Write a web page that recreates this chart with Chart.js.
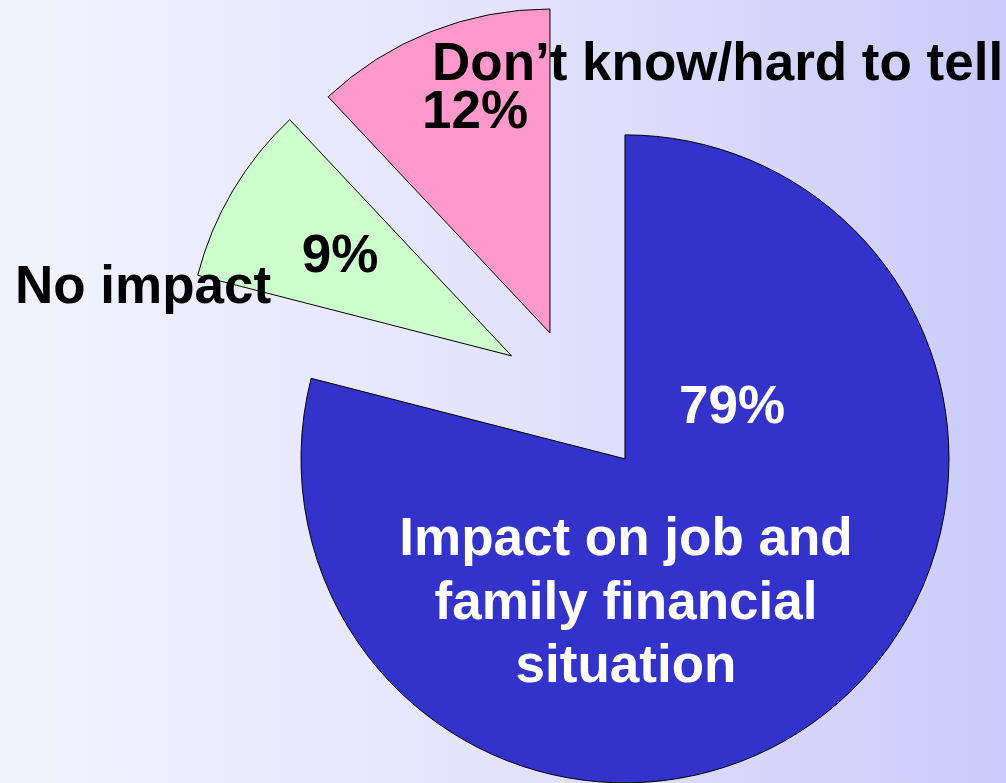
<!DOCTYPE html>
<html lang="en">
<head>
<meta charset="UTF-8" />
<title>Impact pie</title>
<script src="https://cdn.jsdelivr.net/npm/chart.js"></script>
<style>
  html, body { margin: 0; padding: 0; background: #e6e6fd; }
  canvas { display: block; }
</style>
</head>
<body>
<canvas id="myChart" width="1006" height="783"></canvas>
<script>
const nameLines = [
  ['Impact on job and', 'family financial', 'situation'],
  ['No impact'],
  ['Don\u2019t know/hard to tell']
];
const categories = nameLines.map(l => l.join(' '));
const shares = [79, 9, 12];
const sliceColors = ['#3333cc', '#ccffcc', '#ff99cc'];
// how far (px) each slice is pulled out from the pie centre
const explode = [84, 72, 64];
const pieRadius = 324;

const FONT = "bold 53px 'Liberation Sans', Arial, sans-serif";

// move every slice along its middle angle, keeps radius and angles intact
// (the built-in offset option also grows/shrinks the slices)
const explodeSlices = {
  id: 'explodeSlices',
  afterDatasetUpdate(chart, args) {
    args.meta.data.forEach((arc, i) => {
      const mid = (arc.startAngle + arc.endAngle) / 2;
      arc.x += Math.cos(mid) * explode[i];
      arc.y += Math.sin(mid) * explode[i];
    });
  }
};

const background = {
  id: 'background',
  beforeDraw(chart) {
    const { ctx, width, height } = chart;
    const g = ctx.createLinearGradient(0, 0, width, 0);
    g.addColorStop(0, '#f3f3ff');
    g.addColorStop(0.5, '#e3e3fd');
    g.addColorStop(1, '#cbcbfb');
    ctx.save();
    ctx.fillStyle = g;
    ctx.fillRect(0, 0, width, height);
    ctx.restore();
  }
};

// text placement: [x, baseline y, align]
const pctPos = [[732, 423, 'center'], [340, 272, 'center'], [475, 128, 'center']];
const namePos = [[626, 555, 'center'], [15, 303, 'left'], [432, 80, 'left']];
const textColors = ['#ffffff', '#000000', '#000000'];
const lineGap = 63.5;

const sliceLabels = {
  id: 'sliceLabels',
  afterDatasetsDraw(chart) {
    const ctx = chart.ctx;
    ctx.save();
    ctx.font = FONT;
    ctx.textBaseline = 'alphabetic';
    shares.forEach((v, i) => {
      ctx.fillStyle = textColors[i];
      ctx.textAlign = pctPos[i][2];
      ctx.fillText(v + '%', pctPos[i][0], pctPos[i][1]);
      ctx.textAlign = namePos[i][2];
      nameLines[i].forEach((line, k) => {
        ctx.fillText(line, namePos[i][0], namePos[i][1] + k * lineGap);
      });
    });
    ctx.restore();
  }
};

const ctx = document.getElementById('myChart').getContext('2d');
const chart = new Chart(ctx, {
  type: 'pie',
  data: {
    labels: categories,
    datasets: [{
      data: shares,
      backgroundColor: sliceColors,
      borderColor: '#000000',
      borderWidth: 1,
      radius: pieRadius,
      clip: false
    }]
  },
  options: {
    responsive: false,
    animation: false,
    events: [],
    layout: { padding: { left: 141, right: 0, top: 2, bottom: 0 } },
    plugins: {
      legend: { display: false },
      tooltip: { enabled: false }
    }
  },
  plugins: [background, explodeSlices, sliceLabels]
});
</script>
</body>
</html>
